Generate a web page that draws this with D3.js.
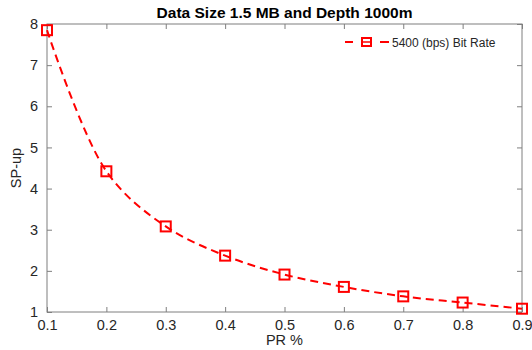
<!DOCTYPE html>
<html>
<head>
<meta charset="utf-8">
<script src="https://cdn.jsdelivr.net/npm/d3@7"></script>
<style>
  html, body { margin: 0; padding: 0; background: #fff; }
  svg { display: block; font-family: "Liberation Sans", Arial, sans-serif; }
</style>
</head>
<body>
<div id="chart"></div>
<script>
// chart data
const prValues = [0.1, 0.2, 0.3, 0.4, 0.5, 0.6, 0.7, 0.8, 0.9];
const speedUp = [7.85, 4.42, 3.08, 2.37, 1.91, 1.61, 1.38, 1.23, 1.08];
const xTicks = [0.1, 0.2, 0.3, 0.4, 0.5, 0.6, 0.7, 0.8, 0.9];
const yTicks = [1, 2, 3, 4, 5, 6, 7, 8];
const seriesName = '5400 (bps) Bit Rate';
const titleText = 'Data Size 1.5 MB and Depth 1000m';

const width = 532, height = 350;
const margin = { top: 24, right: 10, bottom: 38, left: 47 };
const axisColor = '#7f7f7f';
const red = '#ff0000';

const svg = d3.select('#chart')
  .append('svg')
  .attr('width', width)
  .attr('height', height);

const x = d3.scaleLinear()
  .domain([0.1, 0.9])
  .range([margin.left, width - margin.right]);

const y = d3.scaleLinear()
  .domain([1, 8])
  .range([height - margin.bottom, margin.top]);

const pw = width - margin.right - margin.left;
const ph = height - margin.bottom - margin.top;

// axes box
svg.append('rect')
  .attr('x', margin.left).attr('y', margin.top)
  .attr('width', pw).attr('height', ph)
  .attr('fill', 'none')
  .attr('stroke', axisColor)
  .attr('stroke-width', 1);

const styleAxis = g => {
  g.select('.domain').remove();
  g.selectAll('line').attr('stroke', axisColor);
  g.selectAll('text').attr('fill', '#262626').style('font-size', '14.5px');
};

// bottom / top ticks
svg.append('g')
  .attr('transform', `translate(0,${height - margin.bottom})`)
  .call(d3.axisBottom(x).tickValues(xTicks).tickSize(-5).tickPadding(8).tickFormat(d3.format('.1f')))
  .call(styleAxis);

svg.append('g')
  .attr('transform', `translate(0,${margin.top})`)
  .call(d3.axisTop(x).tickValues(xTicks).tickSize(-5).tickFormat(''))
  .call(styleAxis);

// left / right ticks
svg.append('g')
  .attr('transform', `translate(${margin.left},0)`)
  .call(d3.axisLeft(y).tickValues(yTicks).tickSize(-5).tickPadding(9).tickFormat(d3.format('d')))
  .call(styleAxis);

svg.append('g')
  .attr('transform', `translate(${width - margin.right},0)`)
  .call(d3.axisRight(y).tickValues(yTicks).tickSize(-5).tickFormat(''))
  .call(styleAxis);

const data = prValues.map((p, i) => ({ p, v: speedUp[i] }));

// dashed curve
const line = d3.line()
  .x(d => x(d.p))
  .y(d => y(d.v))
  .curve(d3.curveCatmullRom);

svg.append('path')
  .datum(data)
  .attr('fill', 'none')
  .attr('stroke', red)
  .attr('stroke-width', 2)
  .attr('stroke-dasharray', '8,5')
  .attr('d', line);

// square markers
svg.append('g')
  .selectAll('rect')
  .data(data)
  .join('rect')
  .attr('x', d => x(d.p) - 5)
  .attr('y', d => y(d.v) - 5)
  .attr('width', 10)
  .attr('height', 10)
  .attr('fill', 'none')
  .attr('stroke', red)
  .attr('stroke-width', 2);

// legend
const lg = svg.append('g').attr('transform', 'translate(345,42)');
lg.append('line').attr('x1', 0).attr('x2', 8).attr('y1', 0).attr('y2', 0)
  .attr('stroke', red).attr('stroke-width', 2);
lg.append('rect').attr('x', 17).attr('y', -4).attr('width', 9).attr('height', 8)
  .attr('fill', 'none').attr('stroke', red).attr('stroke-width', 2);
lg.append('line').attr('x1', 17).attr('x2', 26).attr('y1', 0).attr('y2', 0)
  .attr('stroke', red).attr('stroke-width', 1.5);
lg.append('line').attr('x1', 35).attr('x2', 44).attr('y1', 0).attr('y2', 0)
  .attr('stroke', red).attr('stroke-width', 2);
lg.append('text').attr('x', 47).attr('y', 4.5)
  .attr('fill', '#262626').style('font-size', '12px')
  .text(seriesName);

// title
svg.append('text')
  .attr('x', (margin.left + width - margin.right) / 2)
  .attr('y', 18)
  .attr('text-anchor', 'middle')
  .attr('fill', '#000')
  .style('font-size', '15.5px')
  .style('font-weight', 'bold')
  .text(titleText);

// axis labels
svg.append('text')
  .attr('x', (margin.left + width - margin.right) / 2)
  .attr('y', 345)
  .attr('text-anchor', 'middle')
  .attr('fill', '#262626')
  .style('font-size', '14.5px')
  .text('PR %');

svg.append('text')
  .attr('transform', `translate(21,${(margin.top + height - margin.bottom) / 2}) rotate(-90)`)
  .attr('text-anchor', 'middle')
  .attr('fill', '#262626')
  .style('font-size', '14.5px')
  .text('SP-up');
</script>
</body>
</html>
